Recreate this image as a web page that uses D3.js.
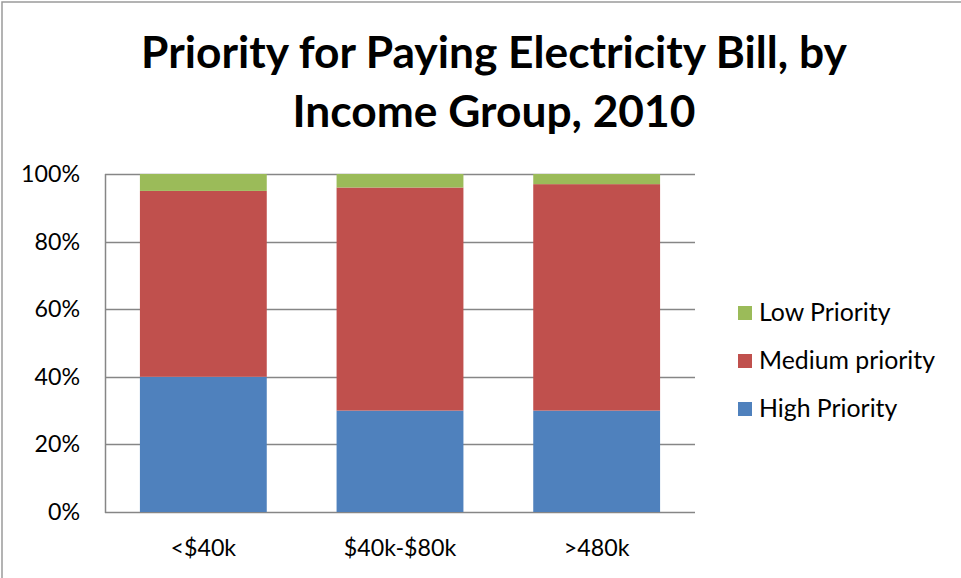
<!DOCTYPE html>
<html><head><meta charset="utf-8">
<script src="https://cdn.jsdelivr.net/npm/d3@7"></script>
<style>html,body{margin:0;padding:0;background:#fff}svg{display:block}text{font-family:Lato,"Open Sans",sans-serif;fill:#000}</style>
</head><body><svg id="c" width="961" height="578"></svg>
<script>
const titleLines = ["Priority for Paying Electricity Bill, by", "Income Group, 2010"];
const categories = ["<$40k", "$40k-$80k", ">480k"];
const seriesNames = ["High Priority", "Medium priority", "Low Priority"];
const highPriority = [0.40, 0.30, 0.30];
const mediumPriority = [0.55, 0.66, 0.67];
const lowPriority = [0.05, 0.04, 0.03];
const yTicks = [0, 0.2, 0.4, 0.6, 0.8, 1.0];
const colors = ["#4F81BD", "#C0504D", "#9BBB59"];

const svg = d3.select("#c");
// chart border
svg.append("path").attr("d","M2,578V2H961").attr("fill","none").attr("stroke","#9a9a9a").attr("stroke-width",1.5);

const plot = {l:105, r:695, t:174, b:512};
const x = d3.scaleBand().domain(categories).range([plot.l, plot.r]).paddingInner(0.355).paddingOuter(0.1775);
const y = d3.scaleLinear().domain([0,1]).range([plot.b, plot.t]);

function fit(sel, target){
  const node = sel.node();
  const fs = parseFloat(sel.attr("font-size"));
  const w = node.getComputedTextLength();
  sel.attr("font-size", fs*target/w);
  return fs*target/w;
}

// gridlines
svg.append("g").selectAll("line").data(yTicks).join("line")
  .attr("x1", plot.l).attr("x2", plot.r)
  .attr("y1", d=>Math.round(y(d))+0.5).attr("y2", d=>Math.round(y(d))+0.5)
  .attr("stroke","#868686").attr("stroke-width",1.5);
svg.append("line").attr("x1",plot.l+0.5).attr("x2",plot.l+0.5).attr("y1",plot.t).attr("y2",plot.b+1)
  .attr("stroke","#868686").attr("stroke-width",1.5);

// stacked data
const rows = categories.map((c,i)=>({cat:c, "High Priority":highPriority[i], "Medium priority":mediumPriority[i], "Low Priority":lowPriority[i]}));
const stack = d3.stack().keys(seriesNames)(rows);
svg.append("g").selectAll("g").data(stack).join("g").attr("fill",(d,i)=>colors[i])
  .selectAll("rect").data(d=>d).join("rect")
  .attr("x", d=>x(d.data.cat)).attr("width", x.bandwidth())
  .attr("y", d=>y(d[1])).attr("height", d=>y(d[0])-y(d[1]));

// y tick labels
const fmt = d3.format(".0%");
const yl = svg.append("g").selectAll("text").data(yTicks).join("text")
  .attr("x", 80).attr("y", d=>y(d)+8).attr("text-anchor","end").attr("font-size",24).text(d=>fmt(d));
let fsY = fit(yl.filter(d=>d===1), 59);
yl.attr("font-size", fsY);

// x labels
const xl = svg.append("g").selectAll("text").data(categories).join("text")
  .attr("x", d=>x(d)+x.bandwidth()/2).attr("y", 556).attr("text-anchor","middle").attr("font-size",fsY).text(d=>d);

// legend
const legendOrder = [2,1,0];
const lg = svg.append("g").selectAll("g").data(legendOrder).join("g")
  .attr("transform",(d,i)=>`translate(738,${313+i*48})`);
lg.append("rect").attr("x",0).attr("y",-7).attr("width",14).attr("height",14).attr("fill",d=>colors[d]);
const lt = lg.append("text").attr("x",21).attr("y",8).attr("font-size",22).text(d=>seriesNames[d]);
let fsL = fit(lt.filter(d=>d===1), 176);
lt.attr("font-size", fsL);

// title
const tt = svg.append("g").selectAll("text").data(titleLines).join("text")
  .attr("x", 494).attr("y",(d,i)=>68+i*59).attr("text-anchor","middle")
  .attr("font-weight","bold").attr("font-size",43).text(d=>d);
let fsT = fit(tt.filter((d,i)=>i===0), 706);
tt.attr("font-size", fsT);
</script></body></html>
